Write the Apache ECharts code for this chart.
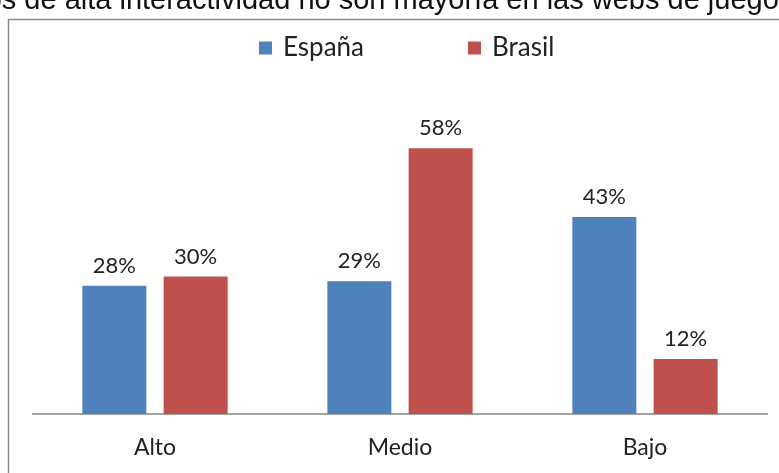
<!DOCTYPE html>
<html><head><meta charset="utf-8">
<script src="https://cdn.jsdelivr.net/npm/echarts@6/dist/echarts.min.js"></script>
<style>html,body{margin:0;padding:0;background:#fff}#c{width:779px;height:473px}</style>
</head><body><div id="c"></div>
<script>
const categories = ['Alto', 'Medio', 'Bajo'];
const seriesNames = ['España', 'Brasil'];
const espana = [28, 29, 43];
const brasil = [30, 58, 12];
const titleText = 'Los juegos de alta interactividad no son mayoría en las webs de juego';

const chart = echarts.init(document.getElementById('c'), null, {renderer: 'canvas'});
const font = 'Lato, "Open Sans", sans-serif';
chart.setOption({
  animation: false,
  backgroundColor: '#fff',
  graphic: [
    {type: 'text', left: -124, top: -14, z: 0,
     style: {text: titleText, font: '29px "Liberation Sans", Arial, sans-serif', fill: '#111'}},
    {type: 'rect', z: 1, shape: {x: 8.5, y: 19.5, width: 800, height: 480},
     style: {fill: '#fff', stroke: '#8a8a8a', lineWidth: 1.5}}
  ],
  legend: {
    top: 30, left: 254, itemWidth: 13, itemHeight: 13, itemGap: 104, z: 5,
    icon: 'rect',
    textStyle: {fontFamily: font, fontSize: 26, color: '#222', padding: [0, 0, 0, 6]},
    data: seriesNames
  },
  grid: {left: 32.5, right: 11.5, top: 93.3, bottom: 59, z: 5},
  xAxis: {
    type: 'category', data: categories, z: 5,
    axisLine: {lineStyle: {color: '#868686', width: 1.5}},
    axisTick: {show: false},
    axisLabel: {fontFamily: font, fontSize: 23, color: '#222', margin: 22}
  },
  yAxis: {type: 'value', min: 0, max: 70, show: false, splitLine: {show: false}},
  series: [
    {name: seriesNames[0], type: 'bar', data: espana, barWidth: 64, barGap: '27%', z: 5,
     itemStyle: {color: '#4F81BD'},
     label: {show: true, position: 'top', distance: 9, formatter: '{c}%', fontFamily: font, fontSize: 22, color: '#222'}},
    {name: seriesNames[1], type: 'bar', data: brasil, barWidth: 64, z: 5,
     itemStyle: {color: '#C0504D'},
     label: {show: true, position: 'top', distance: 9, formatter: '{c}%', fontFamily: font, fontSize: 22, color: '#222'}}
  ]
});
</script></body></html>
